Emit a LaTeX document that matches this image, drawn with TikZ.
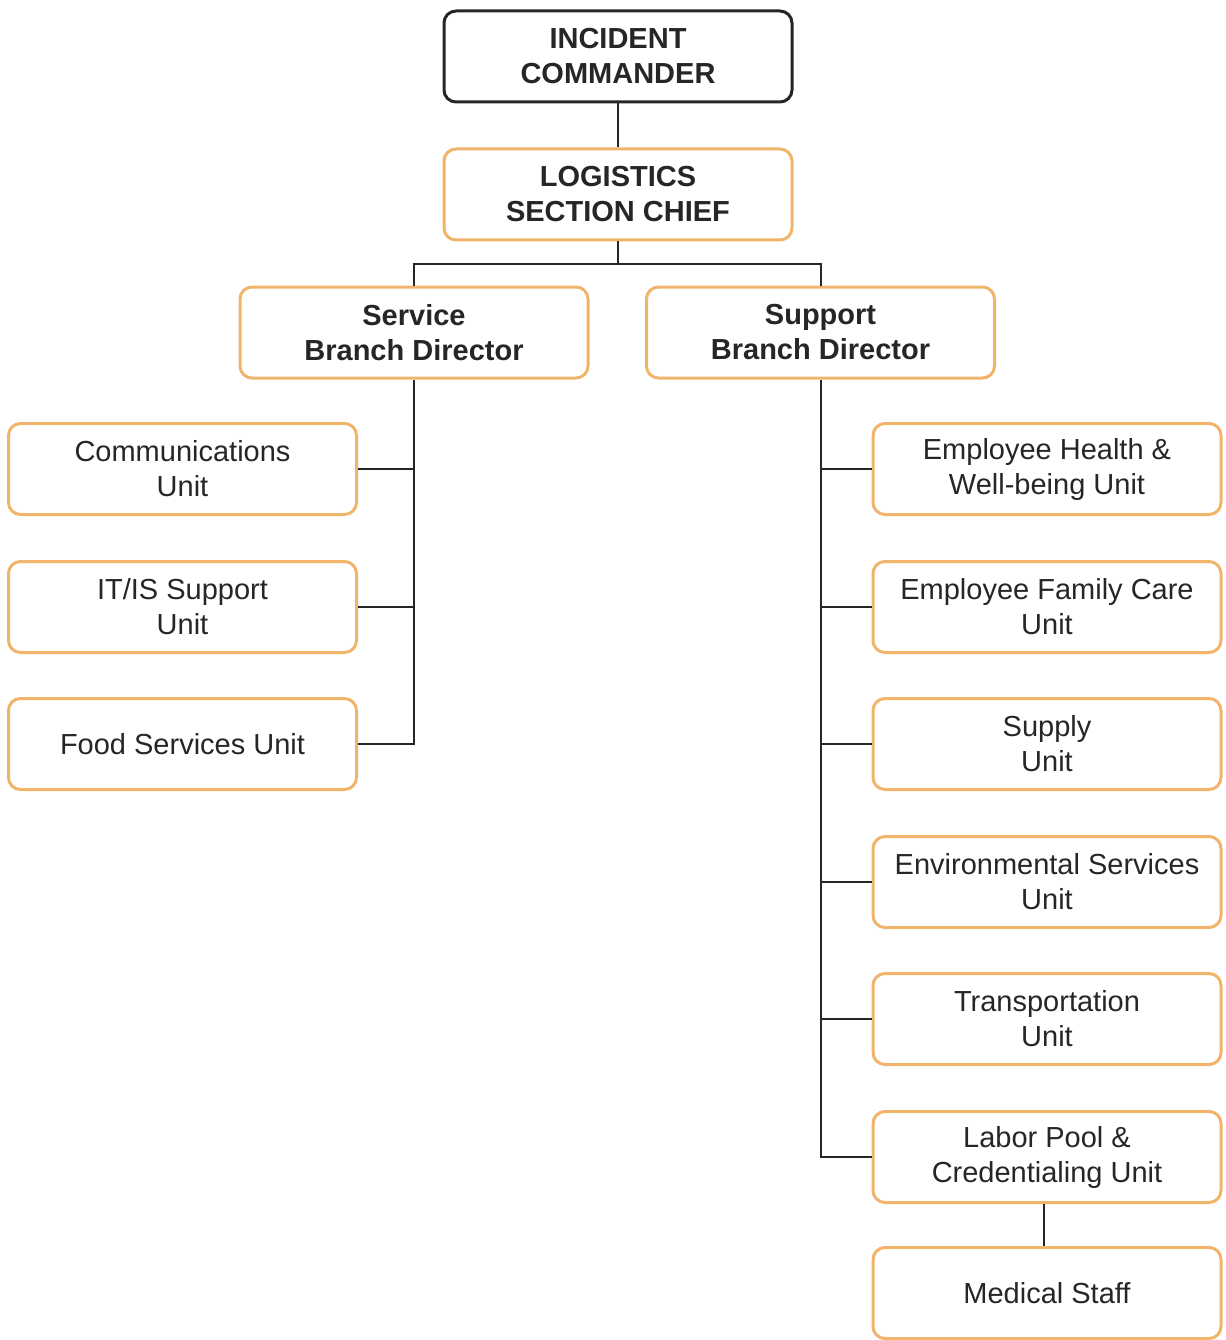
\documentclass[tikz,border=0pt]{standalone}
\usepackage{fontspec}
\setmainfont{Liberation Sans}
\definecolor{boxorange}{HTML}{F0B46A}
\definecolor{inkgray}{HTML}{262626}
\begin{document}
\begin{tikzpicture}[x=1pt,y=-1pt,
  unitbox/.style={draw=boxorange, line width=3pt, rounded corners=12pt,
    minimum width=348pt, minimum height=91pt, align=center, inner sep=0pt,
    text=inkgray, font=\fontsize{29}{35}\selectfont},
  headbox/.style={unitbox, font=\fontsize{29}{35}\selectfont\bfseries},
  cmdbox/.style={headbox, draw=black!85},
  link/.style={draw=black!85, line width=2pt}]
\useasboundingbox (0,0) rectangle (1225,1340);

% command and section level
\node[cmdbox]  (ic)  at (618,56.5)  {INCIDENT\\COMMANDER};
\node[headbox] (lsc) at (618,194.5) {LOGISTICS\\SECTION CHIEF};

% branch directors
\node[headbox] (sbd) at (414,332.5) {Service\\Branch Director};
\node[headbox] (spd) at (820.5,332.5) {Support\\Branch Director};

% service branch units
\node[unitbox] (comm) at (182.5,469) {Communications\\Unit};
\node[unitbox] (itis) at (182.5,607) {IT/IS Support\\Unit};
\node[unitbox] (food) at (182.5,744) {Food Services Unit};

% support branch units
\node[unitbox] (ehw)   at (1047,469)  {Employee Health \&\\Well-being Unit};
\node[unitbox] (efc)   at (1047,607)  {Employee Family Care\\Unit};
\node[unitbox] (sup)   at (1047,744)  {Supply\\Unit};
\node[unitbox] (env)   at (1047,882)  {Environmental Services\\Unit};
\node[unitbox] (trans) at (1047,1019) {Transportation\\Unit};
\node[unitbox] (labor) at (1047,1157) {Labor Pool \&\\Credentialing Unit};
\node[unitbox] (med)   at (1047,1293) {Medical Staff};

% connectors
\coordinate (bus) at (618,264);
\draw[link] (ic.south) -- (lsc.north);
\draw[link] (lsc.south) -- (bus);
\draw[link] (sbd.north) |- (bus) -| (spd.north);

\draw[link] (sbd.south) |- (food.east);
\draw[link] (comm.east) -- (comm.east -| sbd.south);
\draw[link] (itis.east) -- (itis.east -| sbd.south);

\draw[link] (spd.south) |- (labor.west);
\draw[link] (ehw.west) -- (ehw.west -| spd.south);
\draw[link] (efc.west) -- (efc.west -| spd.south);
\draw[link] (sup.west) -- (sup.west -| spd.south);
\draw[link] (env.west) -- (env.west -| spd.south);
\draw[link] (trans.west) -- (trans.west -| spd.south);

\draw[link] (labor.south -| 1044,0) -- (med.north -| 1044,0);
\end{tikzpicture}
\end{document}
